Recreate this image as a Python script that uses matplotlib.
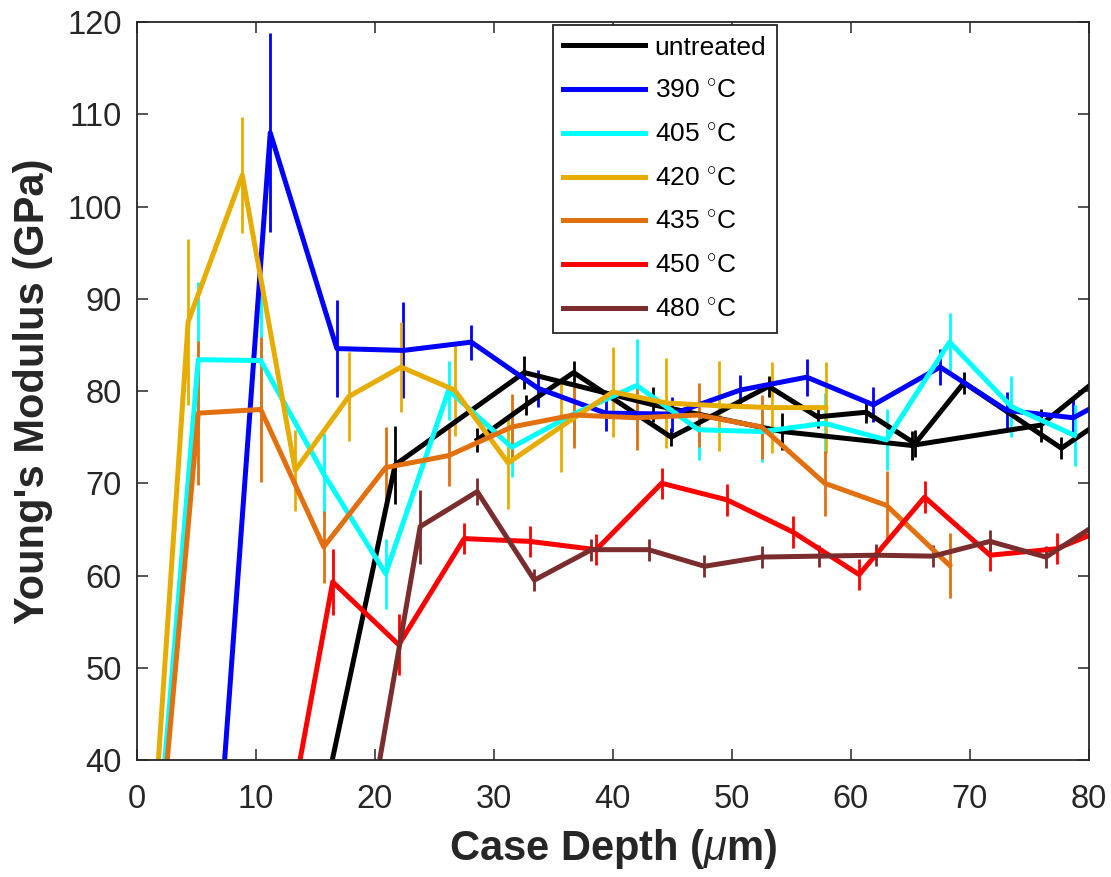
import matplotlib
matplotlib.use("Agg")
import matplotlib.pyplot as plt

plt.rcParams["font.family"] = ["Liberation Sans", "DejaVu Sans"]
plt.rcParams["mathtext.fontset"] = "custom"
plt.rcParams["mathtext.rm"] = "Liberation Sans"
plt.rcParams["mathtext.it"] = "Liberation Sans:italic"
plt.rcParams["mathtext.bf"] = "Liberation Sans:bold"

# untreated, measured as two indent rows
depth_untr_a = [10.85, 21.7, 32.55, 43.4, 54.25, 65.1, 75.95, 86.8]
mod_untr_a = [6.3, 72.0, 82.0, 78.5, 75.6, 74.1, 76.3, 87.6]
err_untr_a = [0, 4.2, 1.8, 1.9, 2.0, 1.6, 1.8, 1.8]

depth_untr_b = [28.6, 32.7, 36.7, 44.9, 53.1, 57.2, 61.3, 65.4, 69.5, 77.7, 81.8]
mod_untr_b = [74.7, 78.5, 82.0, 75.0, 80.5, 77.2, 77.7, 74.3, 80.9, 73.8, 77.4]
err_untr_b = [1.3, 1.1, 1.2, 1.0, 1.1, 1.2, 1.2, 1.5, 1.2, 1.2, 1.2]

depth_390 = [5.6, 11.2, 16.8, 22.4, 28.1, 33.7, 39.4, 45.0, 50.7, 56.3, 61.9, 67.5, 73.1, 78.7, 84.3]
mod_390 = [8.7, 108.0, 84.6, 84.4, 85.3, 80.3, 77.6, 77.5, 80.1, 81.5, 78.5, 82.6, 77.9, 77.1, 81.0]
err_390 = [0, 10.8, 5.3, 5.2, 1.9, 2.0, 1.9, 1.9, 1.6, 2.0, 1.9, 2.0, 2.0, 2.0, 2.0]

depth_405 = [0.0, 5.15, 10.4, 15.7, 20.9, 26.2, 31.5, 36.7, 42.0, 47.2, 52.5, 57.8, 63.0, 68.3, 73.5, 78.8]
mod_405 = [3.6, 83.4, 83.3, 71.0, 60.2, 80.1, 73.9, 77.5, 80.6, 75.8, 75.6, 76.5, 74.7, 85.3, 78.3, 75.2]
err_405 = [0, 8.4, 8.0, 4.5, 3.8, 3.2, 3.2, 3.4, 5.0, 3.3, 3.3, 3.3, 3.3, 3.2, 3.3, 3.3]

depth_420 = [0.0, 4.3, 8.85, 13.3, 17.8, 22.2, 26.7, 31.2, 35.6, 40.0, 44.5, 48.9, 53.4, 57.9]
mod_420 = [5.8, 87.5, 103.4, 71.4, 79.4, 82.6, 80.1, 72.2, 76.1, 79.9, 78.7, 78.4, 78.2, 78.2]
err_420 = [0, 9.0, 6.3, 4.4, 4.8, 4.9, 5.0, 5.0, 4.9, 4.9, 4.9, 4.9, 4.9, 4.9]

depth_435 = [0.0, 5.15, 10.4, 15.7, 20.9, 26.2, 31.5, 36.7, 42.0, 47.2, 52.5, 57.8, 63.0, 68.3]
mod_435 = [3.2, 77.6, 78.0, 63.1, 71.7, 73.0, 76.1, 77.4, 77.1, 77.4, 76.1, 70.0, 67.6, 61.1]
err_435 = [0, 7.8, 7.9, 3.9, 4.4, 3.3, 3.6, 3.6, 3.5, 3.5, 3.5, 3.5, 3.7, 3.5]

depth_450 = [10.9, 16.45, 22.0, 27.5, 33.0, 38.6, 44.1, 49.6, 55.15, 60.7, 66.2, 71.7, 77.3, 82.8]
mod_450 = [20.3, 59.3, 52.5, 64.0, 63.7, 62.8, 70.0, 68.2, 64.7, 60.1, 68.5, 62.2, 62.9, 65.8]
err_450 = [0, 3.6, 3.3, 1.7, 1.7, 1.7, 1.7, 1.7, 1.7, 1.7, 1.7, 1.7, 1.7, 1.7]

depth_480 = [19.0, 23.8, 28.6, 33.4, 38.2, 43.0, 47.7, 52.5, 57.3, 62.1, 66.9, 71.7, 76.4, 81.2]
mod_480 = [29.6, 65.3, 69.1, 59.5, 62.8, 62.8, 61.0, 62.0, 62.1, 62.2, 62.1, 63.7, 62.0, 66.0]
err_480 = [0, 4.0, 1.5, 1.2, 1.2, 1.2, 1.2, 1.2, 1.2, 1.2, 1.2, 1.2, 1.2, 1.2]

series = [
    ("untreated", depth_untr_a, mod_untr_a, err_untr_a, "black"),
    (None, depth_untr_b, mod_untr_b, err_untr_b, "black"),
    ("390 $^{\\circ}$C", depth_390, mod_390, err_390, "#0000FF"),
    ("405 $^{\\circ}$C", depth_405, mod_405, err_405, "#00FFFF"),
    ("420 $^{\\circ}$C", depth_420, mod_420, err_420, "#E6AD00"),
    ("435 $^{\\circ}$C", depth_435, mod_435, err_435, "#E3700F"),
    ("450 $^{\\circ}$C", depth_450, mod_450, err_450, "#FF0000"),
    ("480 $^{\\circ}$C", depth_480, mod_480, err_480, "#7B2C2C"),
]

fig = plt.figure(figsize=(11.11, 8.77), dpi=100)
ax = fig.add_axes([0.1233, 0.1334, 0.8567, 0.8415])

handles = []
for label, x, y, e, c in series:
    eb = ax.errorbar(x, y, yerr=e, fmt="-", color=c, lw=3.6, elinewidth=2.0, capsize=0)
    if label is not None:
        eb.lines[0].set_label(label)
        handles.append(eb.lines[0])

ax.set_xlim(0, 80)
ax.set_ylim(40, 120)
ax.set_xticks(range(0, 81, 10))
ax.set_yticks(range(40, 121, 10))
ax.tick_params(direction="in", length=8, width=1.1, top=True, right=True,
               labelsize=23.5, colors="#262626")
ax.tick_params(axis="x", pad=17)
ax.tick_params(axis="y", pad=11)
for sp in ax.spines.values():
    sp.set_color("#262626")
    sp.set_linewidth(1.3)

ax.set_xlabel("Case Depth ($\\mu$m)", fontsize=30, fontweight="bold", color="#262626", labelpad=9)
ax.set_ylabel("Young's Modulus (GPa)", fontsize=30, fontweight="bold", color="#262626", labelpad=10)

leg = ax.legend(handles=handles, loc="upper left", bbox_to_anchor=(0.437, 0.996),
                fontsize=19, frameon=True, fancybox=False, framealpha=1,
                edgecolor="#262626", handlelength=3.1, handletextpad=0.35,
                labelspacing=0.75, borderpad=0.4, borderaxespad=0)
leg.get_frame().set_linewidth(1.3)

fig.savefig("out.png", dpi=100)
